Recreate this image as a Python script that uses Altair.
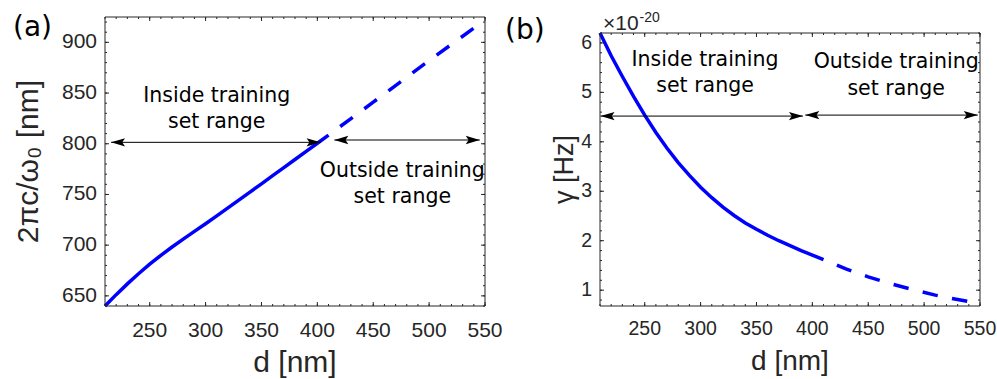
import altair as alt
import pandas as pd

# ---------------- data ----------------
# Panel (a): resonance wavelength 2*pi*c/omega0 [nm] vs d [nm]
a_d_solid = [210, 220, 230, 240, 250, 260, 270, 280, 290, 300, 310, 320, 330, 340,
             350, 360, 370, 380, 390, 400, 410]
a_w_solid = [640, 651.2, 661.8, 671.8, 681.2, 690, 698.2, 706, 713.6, 721.1, 728.9, 736.8,
             744.7, 752.6, 760.5, 768.5, 776.5, 784.5, 792.5, 800.5, 808.5]
a_d_dash = [410, 450, 500, 550]
a_w_dash = [808.5, 841, 882, 922]

# Panel (b): damping gamma [Hz] (x 1e-20) vs d [nm]
b_d_solid = [210, 220, 230, 240, 250, 260, 270, 280, 290, 300, 310, 320, 330, 340,
             350, 360, 370, 380, 390, 400, 410]
b_g_solid = [6.2, 5.74, 5.32, 4.92, 4.54, 4.19, 3.87, 3.58, 3.32, 3.08, 2.87, 2.68,
             2.51, 2.36, 2.23, 2.11, 2.0, 1.9, 1.8, 1.71, 1.62]
b_d_dash = [410, 430, 450, 470, 490, 510, 530, 550]
b_g_dash = [1.62, 1.43, 1.27, 1.13, 1.01, 0.9, 0.81, 0.73]

# axes
x_domain = [210, 550]
x_ticks = [250, 300, 350, 400, 450, 500, 550]
x_minor = list(range(210, 551, 10))
a_y_domain = [640, 925]
a_y_ticks = [650, 700, 750, 800, 850, 900]
a_y_minor = list(range(640, 921, 10))
b_y_domain = [0.68, 6.2]
b_y_ticks = [1, 2, 3, 4, 5, 6]
b_y_minor = [round(0.8 + 0.2 * i, 1) for i in range(28)]

x_title = "d [nm]"
a_y_title = "2πc/ω₀ [nm]"
b_y_title = "γ [Hz]"
b_exponent = ["×10", "-20"]

# annotations
a_text = ["Inside training", "set range", "Outside training", "set range"]
a_text_d = [310, 310, 476, 476]
a_text_v = [841.5, 815.2, 767.5, 741.9]
a_arrow_from = [215.4, 415.2]
a_arrow_to = [402.9, 545.3]
a_arrow_v = [801.4, 803.7]

b_text = ["Inside training", "set range", "Outside training", "set range"]
b_text_d = [304, 304, 475, 475]
b_text_v = [5.53, 5.01, 5.49, 4.95]
b_arrow_from = [210.5, 393.7]
b_arrow_to = [391.6, 548.0]
b_arrow_v = [4.52, 4.54]

# ---------------- style ----------------
AXF = "Liberation Sans"
TXF = "DejaVu Sans"
AXC = "#262626"
BLUE = "#0000FF"
W = 380
H = 289
HEAD_R = "M0,0 L-2,-0.6 L-1.6,0 L-2,0.6 Z"
HEAD_L = "M0,0 L2,-0.6 L1.6,0 L2,0.6 Z"


def fmt(v):
    return str(int(v)) if float(v).is_integer() else str(v)


def panel(d_s, v_s, d_d, v_d, y_dom, y_range, y_ticks, y_minor, ytitle,
          ytitle_x, ytitle_y, ytitle_fs, lab_fs, xlab_y, xtitle_fs, xtitle_y,
          t_text, t_d, t_v, ar_from, ar_to, ar_v, top_px):
    xs = alt.Scale(domain=x_domain, nice=False, zero=False)
    ys = alt.Scale(domain=y_dom, range=y_range, nice=False, zero=False)

    def X(f):
        return alt.X(f, type="quantitative", scale=xs, axis=None)

    def Y(f):
        return alt.Y(f, type="quantitative", scale=ys, axis=None)

    solid = pd.DataFrame({"d": d_s, "v": v_s})
    dash = pd.DataFrame({"d": d_d, "v": v_d})

    line_s = alt.Chart(solid).mark_line(color=BLUE, strokeWidth=3.5).encode(
        x=X("d"), y=Y("v"))
    line_d = alt.Chart(dash).mark_line(color=BLUE, strokeWidth=3.5, strokeDash=[15.5, 14.5],
                                       strokeDashOffset=15.5).encode(x=X("d"), y=Y("v"))

    box = alt.Chart(pd.DataFrame({"x1": [x_domain[0]], "x2": [x_domain[1]],
                                  "y1": [y_dom[0]], "y2": [y_dom[1]]})).mark_rect(
        fillOpacity=0, stroke=AXC, strokeWidth=1).encode(
        x=X("x1"), x2="x2:Q", y=Y("y1"), y2="y2:Q")

    layers = [line_s, line_d, box]
    xmaj = pd.DataFrame({"d": x_ticks, "lbl": [fmt(t) for t in x_ticks]})
    xmin = pd.DataFrame({"d": x_minor})
    ymaj = pd.DataFrame({"v": y_ticks, "lbl": [fmt(t) for t in y_ticks]})
    ymin = pd.DataFrame({"v": y_minor})
    for df, ln in ((xmaj, 4), (xmin, 2)):
        layers.append(alt.Chart(df).mark_rule(color=AXC, strokeWidth=1).encode(
            x=X("d"), y=alt.value(H), y2=alt.value(H - ln)))
        layers.append(alt.Chart(df).mark_rule(color=AXC, strokeWidth=1).encode(
            x=X("d"), y=alt.value(top_px), y2=alt.value(top_px + ln)))
    for df, ln in ((ymaj, 4), (ymin, 2)):
        layers.append(alt.Chart(df).mark_rule(color=AXC, strokeWidth=1).encode(
            y=Y("v"), x=alt.value(0), x2=alt.value(ln)))
        layers.append(alt.Chart(df).mark_rule(color=AXC, strokeWidth=1).encode(
            y=Y("v"), x=alt.value(W), x2=alt.value(W - ln)))

    # tick labels
    layers.append(alt.Chart(xmaj).mark_text(
        font=AXF, fontSize=lab_fs, color=AXC, align="center", baseline="alphabetic").encode(
        x=X("d"), y=alt.value(xlab_y), text="lbl:N"))
    layers.append(alt.Chart(ymaj).mark_text(
        font=AXF, fontSize=lab_fs, color=AXC, align="right", baseline="middle").encode(
        y=Y("v"), x=alt.value(-8), text="lbl:N"))

    # axis titles
    layers.append(alt.Chart(pd.DataFrame({"t": [x_title]})).mark_text(
        font=AXF, fontSize=xtitle_fs, color=AXC, align="center", baseline="alphabetic").encode(
        text="t:N", x=alt.value(W / 2), y=alt.value(xtitle_y)))
    layers.append(alt.Chart(pd.DataFrame({"t": [ytitle]})).mark_text(
        font=AXF, fontSize=ytitle_fs, color=AXC, align="center", baseline="middle",
        angle=270).encode(text="t:N", x=alt.value(ytitle_x), y=alt.value(ytitle_y)))

    # annotations
    layers.append(alt.Chart(pd.DataFrame({"t": t_text, "d": t_d, "v": t_v})).mark_text(
        font=TXF, fontSize=20.5, color="black", align="center", baseline="alphabetic").encode(
        x=X("d"), y=Y("v"), text="t:N"))

    arr = pd.DataFrame({"x1": ar_from, "x2": ar_to, "v": ar_v})
    layers.append(alt.Chart(arr).mark_rule(color="black", strokeWidth=1).encode(
        x=X("x1"), x2="x2:Q", y=Y("v")))
    layers.append(alt.Chart(arr).mark_point(shape=HEAD_L, filled=True, color="black",
                                            size=196, opacity=1).encode(x=X("x1"), y=Y("v")))
    layers.append(alt.Chart(arr).mark_point(shape=HEAD_R, filled=True, color="black",
                                            size=196, opacity=1).encode(x=X("x2"), y=Y("v")))
    return layers


left_layers = panel(a_d_solid, a_w_solid, a_d_dash, a_w_dash, a_y_domain, [H, 0],
                    a_y_ticks, a_y_minor, a_y_title, -76, H / 2, 30,
                    21, H + 31, 30, H + 65.5,
                    a_text, a_text_d, a_text_v, a_arrow_from, a_arrow_to, a_arrow_v, 0)
lab_a = alt.Chart(pd.DataFrame({"t": ["(a)"]})).mark_text(
    font=TXF, fontSize=28, color="black", align="left", baseline="alphabetic").encode(
    text="t:N", x=alt.value(-92), y=alt.value(19))
left = alt.layer(*left_layers, lab_a).properties(width=W, height=H)

right_layers = panel(b_d_solid, b_g_solid, b_d_dash, b_g_dash, b_y_domain, [H, 16],
                     b_y_ticks, b_y_minor, b_y_title, -35, (H + 16) / 2, 27,
                     19.5, H + 29, 28, H + 64,
                     b_text, b_text_d, b_text_v, b_arrow_from, b_arrow_to, b_arrow_v, 16)
lab_b = alt.Chart(pd.DataFrame({"t": ["(b)"]})).mark_text(
    font=TXF, fontSize=28, color="black", align="left", baseline="alphabetic").encode(
    text="t:N", x=alt.value(-95), y=alt.value(22))
exp_main = alt.Chart(pd.DataFrame({"t": [b_exponent[0]]})).mark_text(
    font=AXF, fontSize=21, color=AXC, align="left", baseline="alphabetic").encode(
    text="t:N", x=alt.value(3), y=alt.value(12.5))
exp_sup = alt.Chart(pd.DataFrame({"t": [b_exponent[1]]})).mark_text(
    font=AXF, fontSize=14, color=AXC, align="left", baseline="alphabetic").encode(
    text="t:N", x=alt.value(39.5), y=alt.value(4.7))
right = alt.layer(*right_layers, lab_b, exp_main, exp_sup).properties(width=W, height=H)

chart = alt.hconcat(left, right, spacing=115, bounds="flush").configure_view(
    stroke=None).properties(padding={"left": 13, "top": 10, "right": 0, "bottom": 0},
                            background="white")

chart.save("out.html", embed_options={"renderer": "svg", "actions": False})
